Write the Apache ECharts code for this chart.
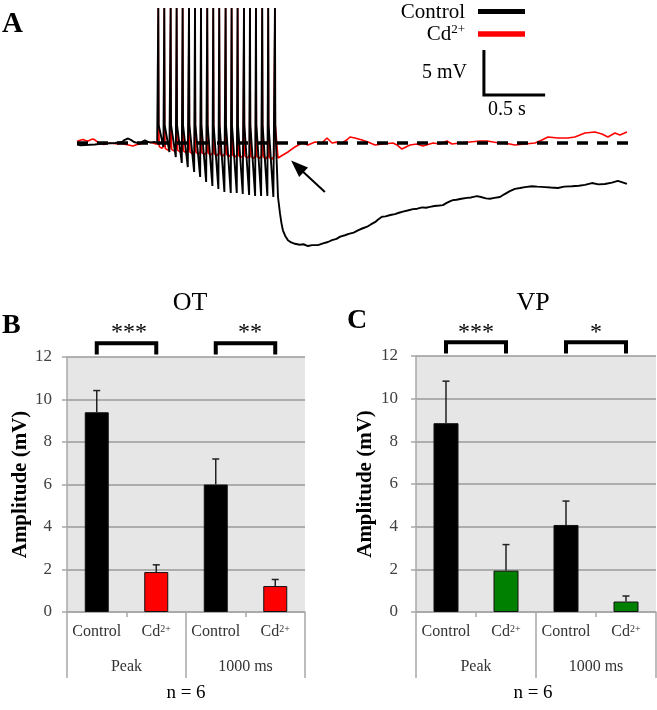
<!DOCTYPE html>
<html><head><meta charset="utf-8">
<script src="https://cdn.jsdelivr.net/npm/echarts@6/dist/echarts.min.js"></script>
<style>html,body{margin:0;padding:0;background:#fff}#c{width:657px;height:710px}</style>
</head><body><div id="c"></div>
<script>
// ---------- Panel A data (time in s, voltage in mV relative to baseline) ----------
const spikeTimes = [0.664,0.713,0.765,0.814,0.863,0.915,0.964,1.013,1.064,1.113,1.162,1.214,1.263,1.312,1.364,1.413,1.462,1.513,1.562,1.617];
const spikePeak = 15;
const controlAHP = [-0.44,-1.0,-1.56,-2.22,-2.67,-3.22,-3.78,-4.33,-4.78,-5.11,-5.44,-5.56,-5.56,-5.67,-5.78,-5.89,-5.89,-5.89,-6.0];
const cdAHP = [-0.4,-0.6,-0.7,-0.8,-0.9,-1.0,-1.05,-1.1,-1.15,-1.2,-1.25,-1.3,-1.35,-1.4,-1.45,-1.5,-1.5,-1.55,-1.6,-1.67];
const controlPre = [[0,-0.17],[0.03,-0.25],[0.065,-0.22],[0.10,-0.2],[0.147,-0.17],[0.19,-0.1],[0.229,-0.06],[0.27,-0.02],[0.31,0],[0.34,0.05],[0.368,0.11],[0.39,0.35],[0.417,0.5],[0.44,0.35],[0.466,0.11],[0.49,0.02],[0.515,0],[0.535,0.15],[0.555,0.28],[0.575,0.15],[0.596,0.06],[0.637,0.11],[0.655,0.0]];
const cdPre = [[0,0.17],[0.025,0.3],[0.049,0.39],[0.07,0.28],[0.09,0.22],[0.11,0.35],[0.131,0.44],[0.15,0.3],[0.172,0.06],[0.195,-0.05],[0.22,-0.17],[0.245,-0.05],[0.27,0],[0.30,-0.05],[0.335,-0.11],[0.37,-0.05],[0.40,-0.17],[0.43,-0.25],[0.457,-0.33],[0.485,-0.2],[0.515,-0.11],[0.545,0.0],[0.572,0.11],[0.60,0.05],[0.62,0],[0.645,-0.1]];
const controlPost = [[1.642,-6.0],[1.658,-7.8],[1.670,-8.9],[1.682,-9.7],[1.700,-10.3],[1.723,-10.8],[1.750,-11.05],[1.780,-11.2],[1.82,-11.3],[1.85,-11.25],[1.887,-11.45],[1.92,-11.35],[1.968,-11.35],[2.01,-11.15],[2.05,-11.0],[2.083,-10.8],[2.12,-10.65],[2.15,-10.4],[2.189,-10.25],[2.22,-10.1],[2.26,-9.95],[2.295,-9.7],[2.33,-9.5],[2.37,-9.3],[2.40,-9.05],[2.434,-8.8],[2.46,-8.5],[2.491,-8.2],[2.52,-8.15],[2.56,-8.0],[2.597,-7.9],[2.63,-7.75],[2.67,-7.6],[2.70,-7.5],[2.744,-7.35],[2.78,-7.3],[2.82,-7.15],[2.85,-7.2],[2.883,-7.1],[2.92,-7.0],[2.96,-6.95],[2.989,-6.9],[3.02,-6.65],[3.05,-6.45],[3.071,-6.35],[3.10,-6.3],[3.14,-6.2],[3.185,-6.1],[3.22,-6.05],[3.267,-5.9],[3.30,-6.0],[3.34,-6.15],[3.373,-6.2],[3.41,-6.1],[3.455,-6.0],[3.49,-5.7],[3.536,-5.35],[3.577,-5.1],[3.62,-5.0],[3.659,-4.9],[3.716,-4.8],[3.76,-4.85],[3.822,-4.9],[3.87,-4.95],[3.928,-5.0],[3.98,-4.85],[4.043,-4.8],[4.10,-4.75],[4.149,-4.65],[4.206,-4.45],[4.26,-4.6],[4.312,-4.55],[4.37,-4.4],[4.418,-4.2],[4.45,-4.35],[4.492,-4.55]];
const cdPost = [[1.642,-1.67],[1.682,-1.33],[1.723,-1.0],[1.780,-0.44],[1.838,0],[1.887,-0.22],[1.944,0.11],[2.001,0],[2.042,0.56],[2.083,0],[2.12,0.1],[2.164,0],[2.20,0.3],[2.230,0.67],[2.270,0.56],[2.328,0.33],[2.377,0.11],[2.434,-0.22],[2.499,-0.11],[2.581,0],[2.614,-0.22],[2.654,-0.67],[2.720,-0.22],[2.777,-0.11],[2.826,-0.33],[2.908,0],[2.965,-0.11],[3.022,0.22],[3.063,-0.11],[3.128,0],[3.210,0.11],[3.291,0.22],[3.349,0.22],[3.398,0.11],[3.455,0],[3.536,-0.11],[3.577,-0.22],[3.659,-0.11],[3.741,0],[3.798,0.33],[3.847,0.67],[3.928,0.56],[4.010,0.56],[4.067,0.67],[4.149,1.11],[4.231,1.22],[4.288,1.0],[4.337,0.67],[4.394,1.11],[4.435,0.89],[4.492,1.22]];
const baselineRange = [0, 4.53];
const arrowFrom = [2.025,-5.44];
const arrowTo = [1.80,-2.6];
const scaleBarTime = 0.5, scaleBarVolt = 5, scaleBarOrigin = [3.324, 5.33];

// ---------- Panels B and C data ----------
const categories = ['Control','Cd2+','Control','Cd2+'];
const groups = ['Peak','1000 ms'];
const otMean = [9.4, 1.88, 6.0, 1.22];
const otUpper = [10.42, 2.22, 7.2, 1.53];
const vpMean = [8.85, 1.94, 4.08, 0.49];
const vpUpper = [10.82, 3.16, 5.2, 0.75];
const otStars = ['***','**'];
const vpStars = ['***','*'];
const yTicks = {min:0, max:12, interval:2};

// build traces
function buildTrace(pre, bottoms, post, isControl){
  const d = pre.slice();
  let prev = pre[pre.length-1][1];
  spikeTimes.forEach((t,i)=>{
    d.push([t-0.002, prev]);
    d.push([t, spikePeak]);
    d.push([t+0.003, 2]);
    if (i < spikeTimes.length-1) {
      const b = bottoms[i];
      if (isControl) { d.push([t+0.042, b]); prev = b; }
      else { d.push([t+0.008, b]); d.push([t+0.030, b-0.2]); d.push([t+0.046, b+0.1]); prev = b+0.1; }
    }
  });
  return d.concat(post);
}
const controlTrace = buildTrace(controlPre, controlAHP, controlPost, true);
const cdTrace = buildTrace(cdPre, cdAHP, cdPost, false);

const SERIF = "'Liberation Serif','Times New Roman',serif";
const grey = '#a8a8a8';

function catAxis(grid, data, margin){
  return {type:'category', gridIndex:grid, data:data, position:'bottom',
    axisLine:{show:true, lineStyle:{color:grey, width:1.5}},
    axisTick:{show:true, length:5, interval:0, lineStyle:{color:grey, width:1.5}},
    axisLabel:{interval:0, margin:margin, fontFamily:SERIF, fontSize:16, color:'#333',
      formatter: v => v==='Cd2+' ? 'Cd{s|2+}' : v,
      rich:{s:{fontSize:10, verticalAlign:'top', fontFamily:SERIF, color:'#333'}}},
    splitLine:{show:false}};
}
function groupAxis(grid){
  return {type:'category', gridIndex:grid, data:groups, position:'bottom', offset:0,
    axisLine:{show:false},
    axisTick:{show:true, length:66, interval:0, lineStyle:{color:grey, width:1.5}},
    axisLabel:{interval:0, margin:47, fontFamily:SERIF, fontSize:16, color:'#333'},
    splitLine:{show:false}};
}
function valAxis(grid, margin, gap){
  return {type:'value', gridIndex:grid, min:yTicks.min, max:yTicks.max, interval:yTicks.interval,
    axisLine:{show:true, lineStyle:{color:grey, width:1.5}},
    axisTick:{show:true, length:5, lineStyle:{color:grey, width:1.5}},
    axisLabel:{margin:margin, fontFamily:SERIF, fontSize:17, color:'#404040'},
    splitLine:{show:true, lineStyle:{color:'#9a9a9a', width:1.5}},
    name:'Amplitude (mV)', nameLocation:'middle', nameGap:gap, nameRotate:90,
    nameTextStyle:{fontFamily:SERIF, fontWeight:'bold', fontSize:21, color:'#000'}};
}
function barSeries(xi, yi, means, cdColor, bw){
  return {type:'bar', xAxisIndex:xi, yAxisIndex:yi, barWidth:bw,
    data: means.map((m,i)=>({value:m, itemStyle:{color: i%2===0 ? '#000' : cdColor, borderColor:'#111', borderWidth:1}})),
    z:3, silent:true};
}
function errSeries(xi, yi, means, uppers){
  return {type:'custom', xAxisIndex:xi, yAxisIndex:yi, z:4, silent:true,
    data: means.map((m,i)=>[i, m, uppers[i]]),
    encode:{x:0, y:[1,2]},
    renderItem(params, api){
      const x = api.value(0);
      const p0 = api.coord([x, api.value(1)]), p1 = api.coord([x, api.value(2)]);
      return {type:'group', children:[
        {type:'line', shape:{x1:p0[0], y1:p0[1], x2:p1[0], y2:p1[1]}, style:{stroke:'#222', lineWidth:1.5}},
        {type:'line', shape:{x1:p1[0]-3.5, y1:p1[1], x2:p1[0]+3.5, y2:p1[1]}, style:{stroke:'#222', lineWidth:1.5}}
      ]};
    }};
}
function bracket(xi, yi, a, b){
  return {type:'line', xAxisIndex:xi, yAxisIndex:yi, clip:false, symbol:'none', silent:true, z:5,
    data:[[a,12.12],[a,12.65],[b,12.65],[b,12.12]],
    lineStyle:{color:'#000', width:4, cap:'butt', join:'miter'}};
}

const chart = echarts.init(document.getElementById('c'), null, {renderer:'canvas'});
function txt(x, y, text, size, opts){
  opts = opts || {};
  const st = {text:text, font:(opts.bold?'bold ':'')+size+'px '+SERIF, fill:opts.color||'#000',
    align:opts.align||'center', textAlign:opts.align||'center', verticalAlign:'middle', textVerticalAlign:'middle'};
  if (opts.rich) st.rich = opts.rich;
  return {type:'text', x:x, y:y, style:st, silent:true, z:10};
}
const supRich = {s:{fontSize:13, fontFamily:SERIF, verticalAlign:'top', fill:'#000', color:'#000'}};

chart.setOption({
  backgroundColor:'#fff',
  animation:false,
  grid:[
    {left:77, top:8, width:557, height:243, show:false},
    {left:67, top:357, width:238, height:255, show:true, backgroundColor:'#e6e6e6', borderWidth:0},
    {left:416, top:356, width:240, height:256, show:true, backgroundColor:'#e6e6e6', borderWidth:0}
  ],
  xAxis:[
    {type:'value', gridIndex:0, min:0, max:4.55, show:false},
    catAxis(1, categories, 12), groupAxis(1),
    catAxis(2, categories, 12), groupAxis(2)
  ],
  yAxis:[
    {type:'value', gridIndex:0, min:-12, max:15, show:false},
    valAxis(1, 15, 36),
    valAxis(2, 18, 40)
  ],
  series:[
    {type:'line', xAxisIndex:0, yAxisIndex:0, data:cdTrace, symbol:'none', lineStyle:{color:'#f00', width:1.6}, z:2, silent:true},
    {type:'line', xAxisIndex:0, yAxisIndex:0, data:controlTrace, symbol:'none', lineStyle:{color:'#000', width:1.9}, z:3, silent:true},
    {type:'line', xAxisIndex:0, yAxisIndex:0, data:[[baselineRange[0],0],[baselineRange[1],0]], symbol:'none', clip:false,
      lineStyle:{color:'#000', width:3.5, type:[11,9]}, z:4, silent:true,
      markLine:{silent:true, symbol:['none','triangle'], symbolSize:[13,17], label:{show:false},
        lineStyle:{color:'#000', width:2, type:'solid'},
        data:[[{coord:arrowFrom},{coord:arrowTo}]]}},
    {type:'line', xAxisIndex:0, yAxisIndex:0, symbol:'none', clip:false, silent:true, z:4,
      data:[[scaleBarOrigin[0], scaleBarOrigin[1]+scaleBarVolt],[scaleBarOrigin[0], scaleBarOrigin[1]],[scaleBarOrigin[0]+scaleBarTime, scaleBarOrigin[1]]],
      lineStyle:{color:'#000', width:3, cap:'butt', join:'miter'}},
    barSeries(1, 1, otMean, '#f00', 24),
    errSeries(1, 1, otMean, otUpper),
    bracket(1, 1, 0, 1), bracket(1, 1, 2, 3),
    barSeries(3, 2, vpMean, '#008000', 25),
    errSeries(3, 2, vpMean, vpUpper),
    bracket(3, 2, 0, 1), bracket(3, 2, 2, 3)
  ],
  graphic:[
    txt(2, 25, 'A', 29, {bold:true, align:'left'}),
    txt(465, 12, 'Control', 21, {align:'right'}),
    txt(465, 34, 'Cd{s|2+}', 21, {align:'right', rich:supRich}),
    {type:'line', shape:{x1:478, y1:11.5, x2:525, y2:11.5}, style:{stroke:'#000', lineWidth:5}, silent:true},
    {type:'line', shape:{x1:478, y1:34, x2:525, y2:34}, style:{stroke:'#f00', lineWidth:5.5}, silent:true},
    txt(467, 73, '5 mV', 20, {align:'right'}),
    txt(507, 110, '0.5 s', 20),
    txt(2, 326, 'B', 28, {bold:true, align:'left'}),
    txt(347, 321, 'C', 28, {bold:true, align:'left'}),
    txt(190, 303, 'OT', 26),
    txt(533, 303, 'VP', 26),
    txt(129, 333, otStars[0], 24), txt(250, 333, otStars[1], 24),
    txt(476, 333, vpStars[0], 24), txt(596, 333, vpStars[1], 24),
    txt(186, 693, 'n = 6', 19), txt(533, 693, 'n = 6', 19)
  ]
});
</script></body></html>
